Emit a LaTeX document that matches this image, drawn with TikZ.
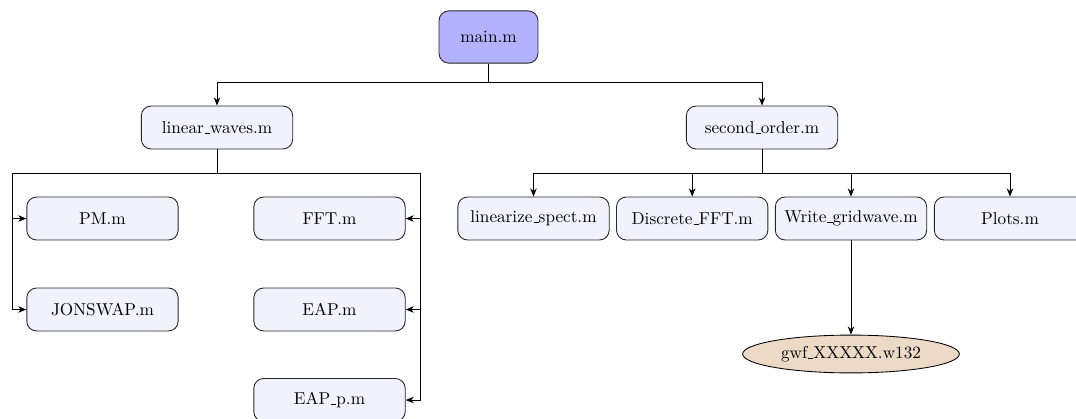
\documentclass[tikz,border=0pt]{standalone}
\usetikzlibrary{arrows.meta,shapes.geometric}
\newcommand\usc{\leavevmode\kern.06em\vbox{\hrule width.3em}}
\begin{document}
\begin{tikzpicture}[x=0.5814pt,y=-0.5814pt,
  filebox/.style={draw=black!85,line width=0.5pt,rounded corners=2mm,fill=blue!5,
    minimum width=88pt,minimum height=25pt,inner sep=0pt,align=center},
  mainbox/.style={filebox,fill=blue!30,minimum width=57.5pt,minimum height=30.4pt},
  outfile/.style={draw=black,line width=0.5pt,ellipse,fill=brown!30,
    minimum width=126pt,minimum height=22pt,inner sep=0pt},
  conn/.style={line width=0.5pt},
  arr/.style={conn,-{Stealth[length=4.8pt,width=3.8pt]}}]
\useasboundingbox (0,0) rectangle (1076,419);
% nodes
\node[mainbox] (main) at (488.5,37) {main.m};
\node[filebox] (lw) at (217,127.5) {linear\usc waves.m};
\node[filebox] (so) at (762,127.5) {second\usc order.m};
\node[filebox] (pm) at (102.5,218.5) {PM.m};
\node[filebox] (jon) at (102.5,309.5) {JONSWAP.m};
\node[filebox] (fft) at (329.5,218.5) {FFT.m};
\node[filebox] (eap) at (329.5,309.5) {EAP.m};
\node[filebox] (eapp) at (329.5,400) {EAP\usc p.m};
\node[filebox] (lin) at (533.5,218.5) {linearize\usc spect.m};
\node[filebox] (disc) at (692.2,218.5) {Discrete\usc FFT.m};
\node[filebox] (wg) at (851,218.5) {Write\usc gridwave.m};
\node[filebox] (plots) at (1010,218.5) {Plots.m};
\node[outfile] (gwf) at (851,354) {gwf\usc XXXXX.w132};
% junction coordinates
\coordinate (mj) at (488.5,82);
\coordinate (lj) at (217,173);
\coordinate (lL) at (12.7,173);
\coordinate (lR) at (420,173);
\coordinate (sj) at (762,173);
% main -> level 1
\draw[conn] (main.south) -- (mj);
\draw[arr] (mj) -| (lw.north);
\draw[arr] (mj) -| (so.north);
% linear_waves children
\draw[conn] (lw.south) -- (lj);
\draw[conn] (lL) -- (lR);
\draw[arr] (lL) |- (jon.west);
\draw[arr] (lL |- pm.west) -- (pm.west);
\draw[arr] (lR) |- (eapp.east);
\draw[arr] (lR |- fft.east) -- (fft.east);
\draw[arr] (lR |- eap.east) -- (eap.east);
% second_order children
\draw[conn] (so.south) -- (sj);
\draw[conn] (lin.north |- sj) -- (plots.north |- sj);
\draw[arr] (lin.north |- sj) -- (lin.north);
\draw[arr] (disc.north |- sj) -- (disc.north);
\draw[arr] (wg.north |- sj) -- (wg.north);
\draw[arr] (plots.north |- sj) -- (plots.north);
% output file
\draw[arr] (wg.south) -- (gwf.north);
\end{tikzpicture}
\end{document}
